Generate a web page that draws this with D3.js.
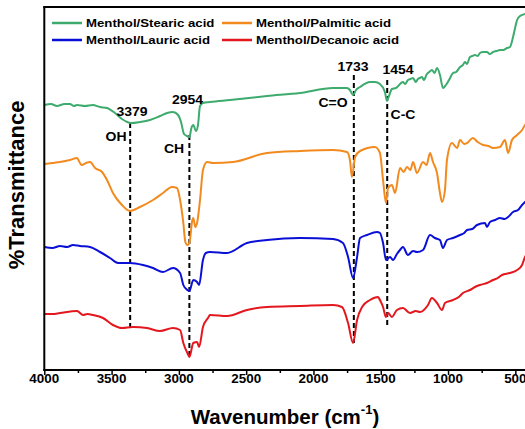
<!DOCTYPE html>
<html><head><meta charset="utf-8">
<script src="https://cdn.jsdelivr.net/npm/d3@7"></script>
<style>body{margin:0;background:#fff}svg{display:block}text{font-family:"Liberation Sans",Arial,sans-serif;font-weight:bold;fill:#000}</style>
</head><body><div id="chart"></div>
<script>
// ---- data (wavenumber cm-1, offset transmittance a.u.) ----
const seriesNames = ["Menthol/Stearic acid","Menthol/Palmitic acid","Menthol/Lauric acid","Menthol/Decanoic acid"];
const seriesColors = ["#3dab6d","#f28a1e","#0a0fd6","#e3171d"];
const stearic = [[4000,265],[3950,266],[3906,264],[3850,266],[3809,266],[3780,264],[3757,265],[3698,264],[3640,265],[3586,263],[3534,262],[3475,257],[3423,251],[3356,247],[3289,248],[3215,250],[3140,254],[3088,257],[3044,258],[3006,255],[2984,248],[2962,236],[2940,234],[2922,233],[2907,242],[2893,245],[2873,239],[2858,245],[2843,264],[2821,267],[2769,268],[2620,270],[2345,274],[2100,277],[1855,282],[1751,282],[1729,280],[1706,275],[1684,280],[1654,283],[1580,288],[1543,288],[1506,286],[1469,278],[1454,269],[1439,274],[1417,281],[1387,282],[1335,288],[1320,286],[1298,290],[1280,291],[1260,292],[1240,288],[1224,291],[1210,292],[1194,293],[1180,290],[1157,296],[1140,298],[1120,300],[1100,297],[1082,302],[1060,295],[1038,282],[1016,285],[993,290],[963,297],[940,298],[911,303],[890,305],[874,308],[860,306],[837,313],[820,314],[800,315],[780,314],[763,317],[740,318],[711,318],[690,316],[666,318],[640,319],[614,320],[590,320],[562,322],[540,323],[517,333],[502,342],[487,350],[465,354],[428,356],[400,357]];
const palmitic = [[4000,206],[3940,207],[3883,208],[3809,210],[3757,212],[3735,207],[3720,205],[3690,207],[3660,208],[3623,202],[3571,198],[3534,190],[3490,177],[3423,165],[3363,159],[3289,163],[3192,170],[3118,177],[3051,183],[3014,182],[2991,170],[2967,147],[2952,128],[2937,125],[2922,127],[2900,150],[2893,152],[2878,143],[2865,147],[2843,170],[2821,200],[2791,208],[2746,207],[2598,208],[2345,217],[2100,219],[1855,220],[1751,218],[1729,210],[1714,193],[1691,213],[1654,219],[1543,223],[1506,217],[1483,190],[1461,167],[1446,182],[1417,185],[1394,177],[1357,202],[1330,198],[1305,203],[1280,200],[1260,208],[1231,197],[1186,208],[1160,205],[1134,217],[1112,208],[1082,197],[1060,177],[1045,168],[1023,180],[1008,210],[971,227],[933,222],[911,230],[880,226],[859,227],[815,232],[780,228],[740,225],[700,224],[666,222],[614,223],[577,230],[554,217],[525,230],[487,235],[450,240],[428,245],[400,248]];
const lauric = [[4000,123],[3940,122],[3883,124],[3830,123],[3787,125],[3735,124],[3660,123],[3586,118],[3512,112],[3452,107],[3363,107],[3267,105],[3192,102],[3118,98],[3044,102],[2991,97],[2967,85],[2937,80],[2922,79],[2893,90],[2865,88],[2850,85],[2821,110],[2800,117],[2769,118],[2642,117],[2494,127],[2345,130],[2100,132],[1855,131],[1781,127],[1743,113],[1706,92],[1676,113],[1654,132],[1602,135],[1528,138],[1506,137],[1483,127],[1461,110],[1431,113],[1409,110],[1380,116],[1357,120],[1335,123],[1298,115],[1260,119],[1231,118],[1186,120],[1134,135],[1097,132],[1060,130],[1038,122],[1008,130],[963,132],[911,135],[880,137],[859,140],[820,141],[785,145],[725,147],[711,143],[688,148],[650,150],[614,152],[580,151],[554,153],[517,158],[480,160],[450,165],[428,168],[400,171]];
const decanoic = [[4000,56],[3940,56],[3883,57],[3757,59],[3712,55],[3680,56],[3638,55],[3564,52],[3490,45],[3423,42],[3341,43],[3237,42],[3140,39],[3044,42],[2991,40],[2967,27],[2937,17],[2922,13],[2893,27],[2865,28],[2850,23],[2821,43],[2784,52],[2769,55],[2642,54],[2494,60],[2345,63],[2100,64],[1855,65],[1788,63],[1743,47],[1706,27],[1676,50],[1639,63],[1580,70],[1520,73],[1506,70],[1483,63],[1461,53],[1446,57],[1417,53],[1380,60],[1335,62],[1283,57],[1240,59],[1209,58],[1149,65],[1120,72],[1082,67],[1045,60],[1023,67],[963,70],[920,73],[889,77],[837,80],[800,83],[763,85],[711,87],[666,90],[630,92],[599,95],[540,97],[487,100],[450,105],[428,113],[400,118]];
const seriesData = [stearic, palmitic, lauric, decanoic];

// peak marker lines (wavenumber, top value, bottom value) and labels
const markerWave = [3362, 2922, 1700, 1452];
const markerTop = [247, 235, 295, 290];
const markerBottom = [40, 13, 27, 44];
const peakLabels = ["3379","2954","1733","1454"];
const peakLabelWave = [3348, 2936, 1706, 1372];
const peakLabelVal = [258, 270, 303, 300];
const groupLabels = ["OH","CH","C=O","C-C"];
const groupLabelWave = [3467, 3036, 1855, 1335];
const groupLabelVal = [233, 221, 267, 255];

const xTicks = [4000,3500,3000,2500,2000,1500,1000,500];
const xMinorTicks = [3750,3250,2750,2250,1750,1250,750];

// ---- layout ----
const W = 525, H = 429;
const mLeft = 44.3, mRight = 528.8, mTop = 7, mBottom = 370;
const sx = 1.12;

const svg = d3.select("#chart").append("svg").attr("width", W).attr("height", H);
const x = d3.scaleLinear().domain([4000, 400]).range([mLeft, mRight]);
const y = d3.scaleLinear().domain([0, 363]).range([mBottom, mTop]);

function txt(px, py, s, size, anchor, stretch) {
  return svg.append("text")
    .attr("transform", `translate(${px},${py}) scale(${stretch},1)`)
    .attr("text-anchor", anchor || "middle")
    .attr("dominant-baseline", "central")
    .style("font-size", size + "px")
    .text(s);
}

// marker dashed lines
markerWave.forEach((w, i) => {
  svg.append("line")
    .attr("x1", x(w)).attr("x2", x(w))
    .attr("y1", y(markerTop[i])).attr("y2", y(markerBottom[i]))
    .attr("stroke", "#000").attr("stroke-width", 2)
    .attr("stroke-dasharray", "5,3");
});

// curves
const line = d3.line().x(d => x(d[0])).y(d => y(d[1])).curve(d3.curveMonotoneX);
seriesData.forEach((data, i) => {
  svg.append("path").datum(data)
    .attr("fill", "none").attr("stroke", seriesColors[i])
    .attr("stroke-width", 2).attr("stroke-linejoin", "round")
    .attr("d", line);
});

// labels
peakLabels.forEach((s, i) => txt(x(peakLabelWave[i]), y(peakLabelVal[i]), s, 12.5, "middle", sx));
groupLabels.forEach((s, i) => txt(x(groupLabelWave[i]), y(groupLabelVal[i]), s, 12.5, "middle", sx));

// axes
const xAxis = d3.axisBottom(x).tickValues(xTicks).tickSize(5).tickSizeOuter(0).tickFormat(d3.format("d"));
const gx = svg.append("g").attr("transform", `translate(0,${mBottom})`).call(xAxis);
gx.select(".domain").remove();
gx.selectAll(".tick line").attr("stroke", "#000").attr("stroke-width", 1.5);
gx.selectAll(".tick text").remove();
xTicks.forEach(t => txt(x(t), 379, String(t), 12, "middle", sx));
const gm = svg.append("g").attr("transform", `translate(0,${mBottom})`)
  .call(d3.axisBottom(x).tickValues(xMinorTicks).tickSize(3).tickFormat(""));
gm.select(".domain").remove();
gm.selectAll(".tick line").attr("stroke", "#000").attr("stroke-width", 1.5);

svg.append("line").attr("x1", mLeft - 1).attr("x2", W).attr("y1", mBottom).attr("y2", mBottom).attr("stroke", "#000").attr("stroke-width", 2);
svg.append("line").attr("x1", mLeft).attr("x2", mLeft).attr("y1", mTop - 1).attr("y2", mBottom + 1).attr("stroke", "#000").attr("stroke-width", 2);
svg.append("line").attr("x1", mLeft - 1).attr("x2", W).attr("y1", mTop).attr("y2", mTop).attr("stroke", "#000").attr("stroke-width", 2);

// axis titles
const xt = svg.append("text").attr("x", 285).attr("y", 416).attr("text-anchor", "middle")
  .attr("dominant-baseline", "central").style("font-size", "20.5px");
xt.append("tspan").text("Wavenumber (cm");
xt.append("tspan").attr("dy", -7).style("font-size", "13px").text("-1");
xt.append("tspan").attr("dy", 7).text(")");
svg.append("text").attr("transform", "translate(16,185) rotate(-90)")
  .attr("text-anchor", "middle").attr("dominant-baseline", "central")
  .style("font-size", "22px").text("%Transmittance");

// legend
const legX = [52, 222], legY = [23, 40];
seriesNames.forEach((n, i) => {
  const cx = legX[i % 2], cy = legY[Math.floor(i / 2)];
  svg.append("line").attr("x1", cx).attr("x2", cx + 30).attr("y1", cy).attr("y2", cy)
    .attr("stroke", seriesColors[i]).attr("stroke-width", 2.5);
  txt(cx + 34, cy, n, 11.8, "start", sx);
});
</script></body></html>
